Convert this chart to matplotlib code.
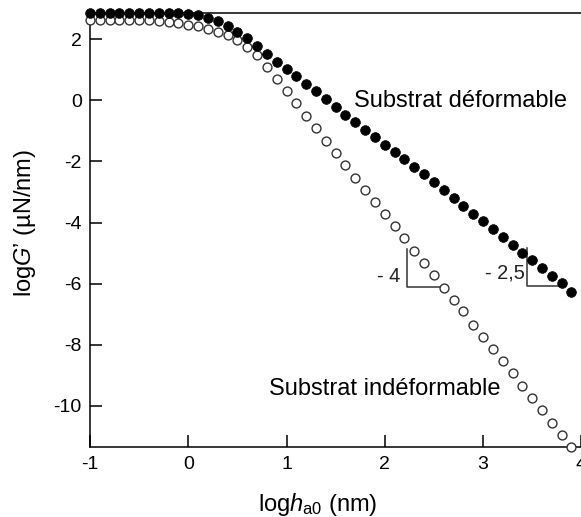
#!/usr/bin/env python3

import matplotlib
matplotlib.use("Agg")
import matplotlib.pyplot as plt

# log h_a0 (nm)
log_h = [-1.0, -0.9, -0.8, -0.7, -0.6, -0.5, -0.4, -0.3, -0.2, -0.1,
         0.0, 0.1, 0.2, 0.3, 0.4, 0.5, 0.6, 0.7, 0.8, 0.9,
         1.0, 1.1, 1.2, 1.3, 1.4, 1.5, 1.6, 1.7, 1.8, 1.9,
         2.0, 2.1, 2.2, 2.3, 2.4, 2.5, 2.6, 2.7, 2.8, 2.9,
         3.0, 3.1, 3.2, 3.3, 3.4, 3.5, 3.6, 3.7, 3.8, 3.9]

# substrat deformable (filled)
logG_deform = [2.86, 2.86, 2.86, 2.86, 2.86, 2.86, 2.86, 2.86, 2.86, 2.85,
               2.82, 2.79, 2.71, 2.60, 2.45, 2.25, 2.03, 1.78, 1.51, 1.27,
               1.03, 0.80, 0.55, 0.29, 0.04, -0.22, -0.47, -0.71, -0.96, -1.21,
               -1.46, -1.69, -1.93, -2.17, -2.42, -2.68, -2.94, -3.20, -3.46, -3.71,
               -3.96, -4.22, -4.48, -4.73, -4.99, -5.23, -5.48, -5.74, -5.99, -6.26]

# substrat indeformable (open)
logG_rigid = [2.63, 2.63, 2.63, 2.63, 2.63, 2.63, 2.62, 2.60, 2.57, 2.53,
              2.48, 2.42, 2.34, 2.25, 2.13, 1.97, 1.76, 1.47, 1.10, 0.69,
              0.29, -0.10, -0.52, -0.91, -1.32, -1.73, -2.13, -2.53, -2.93, -3.33,
              -3.73, -4.12, -4.52, -4.92, -5.32, -5.73, -6.15, -6.53, -6.91, -7.35,
              -7.75, -8.14, -8.55, -8.93, -9.34, -9.75, -10.15, -10.55, -10.95, -11.34]

x_ticks = [-1, 0, 1, 2, 3, 4]
y_ticks = [2, 0, -2, -4, -6, -8, -10]


def main():
    plt.rcParams['font.family'] = ['Liberation Sans', 'DejaVu Sans']
    plt.rcParams['mathtext.fontset'] = 'custom'
    plt.rcParams['mathtext.rm'] = 'Liberation Sans'
    plt.rcParams['mathtext.it'] = 'Liberation Sans:italic'

    fig = plt.figure(figsize=(5.81, 5.17), dpi=100)
    ax = fig.add_axes([90 / 581, 70 / 517, 491.3 / 581, 434 / 517])

    ax.plot(log_h, logG_rigid, 'o', ms=6.4, mfc='white', mec='#333333',
            mew=1.0, clip_on=False, zorder=3)
    ax.plot(log_h, logG_deform, 'o', ms=7.0, mfc='black', mec='black',
            mew=0.5, clip_on=False, zorder=4)

    # slope triangles
    tri = dict(color='#333333', lw=1.1, zorder=2)
    ax.plot([2.223, 2.223, 2.579], [-4.88, -6.10, -6.10], **tri)
    ax.plot([3.444, 3.444, 3.783], [-4.84, -6.08, -6.08], **tri)
    ax.text(2.155, -5.77, '- 4', fontsize=14.4, ha='right', va='center', color='#222222')
    ax.text(3.427, -5.66, '- 2,5', fontsize=14.4, ha='right', va='center', color='#222222')

    ax.text(1.687, -0.22, 'Substrat déformable', fontsize=17, ha='left', va='baseline')
    ax.text(0.821, -9.65, 'Substrat indéformable', fontsize=17, ha='left', va='baseline')

    ax.set_xlim(-1, 4)
    ax.set_ylim(-11.35, 2.86)
    ax.set_xticks(x_ticks)
    ax.set_yticks(y_ticks)
    ax.set_xticklabels([str(t) for t in x_ticks])
    ax.set_yticklabels([str(t) for t in y_ticks])

    for side in ['left', 'bottom', 'top']:
        ax.spines[side].set_linewidth(1.1)
    ax.spines['right'].set_visible(False)
    ax.tick_params(direction='in', length=8.4, width=1.1, labelsize=14,
                   top=False, right=False)
    ax.tick_params(axis='x', pad=6.5)
    ax.tick_params(axis='y', pad=6)

    ax.set_xlabel(r'log$h_{\mathrm{a0}}$ (nm)', fontsize=17)
    ax.xaxis.set_label_coords(0.463, -0.1475)
    ax.xaxis.label.set_verticalalignment('baseline')

    ax.set_ylabel(r'log$G$’ (µN/nm)', fontsize=17)
    ax.yaxis.set_label_coords(-0.1323, 0.516)
    ax.yaxis.label.set_verticalalignment('center')

    fig.savefig('out.png', dpi=100)


if __name__ == '__main__':
    main()
